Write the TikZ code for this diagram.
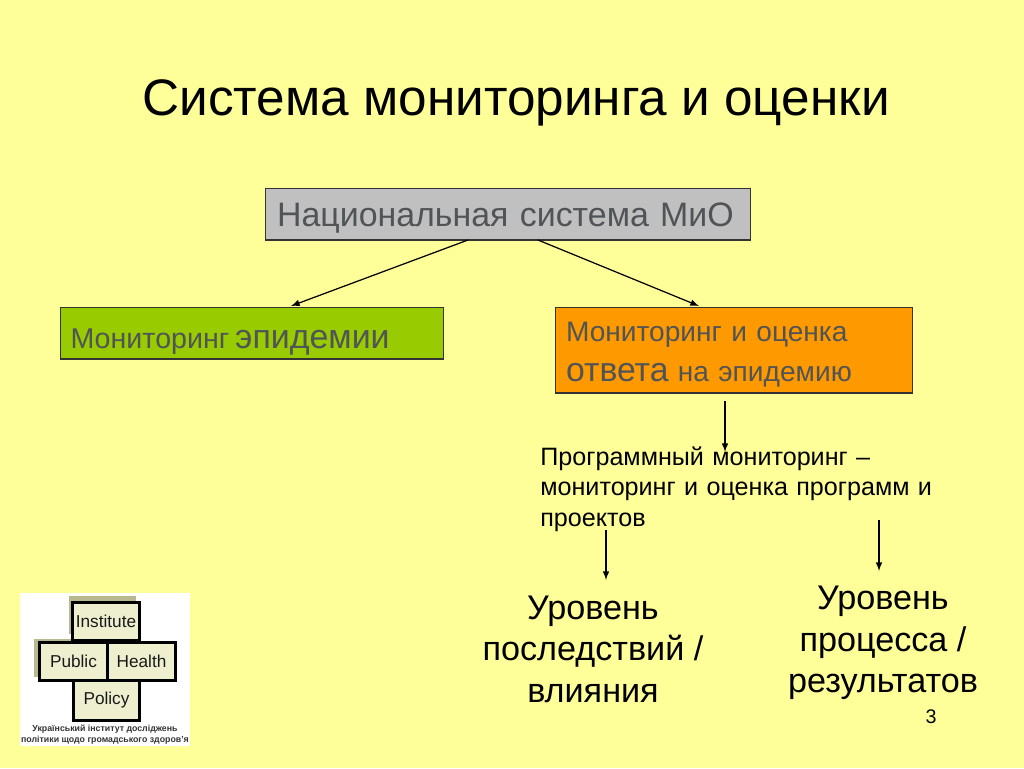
\documentclass[tikz,border=0pt]{standalone}
\usepackage{fontspec}
\setmainfont{Liberation Sans}
\usetikzlibrary{positioning, arrows}
\definecolor{slidebg}{HTML}{FFFF99}
\definecolor{boxgrey}{HTML}{C0C0C0}
\definecolor{boxgreen}{HTML}{99CC00}
\definecolor{boxorange}{HTML}{FF9900}
\definecolor{boxtext}{HTML}{505457}
\definecolor{logofill}{HTML}{EEEFCF}
\definecolor{logoshade}{HTML}{B9B98F}
\newcommand{\fs}[1]{\fontsize{#1}{#1}\selectfont}
\tikzset{
  box/.style={draw=black!80, line width=0.6pt, inner sep=0pt, text=boxtext, align=left, anchor=north west},
  plain/.style={inner sep=0pt, text=black, align=center},
  arrow/.style={-latex, line width=0.7pt, black},
  logobox/.style={draw=black, line width=1.7pt, fill=logofill, inner sep=0pt, text=black!90, anchor=north west, font=\fs{9.8}},
  logoshadow/.style={fill=logoshade, inner sep=0pt, anchor=north west}
}
\begin{document}
\begin{tikzpicture}[x=0.02cm, y=-0.02cm]
  \useasboundingbox (0, 0) rectangle (1024, 768);
  \fill[slidebg] (0, 0) rectangle (1024, 768);

  \node[plain, font=\fs{29.2}] (title) at (516, 103) {Система мониторинга и оценки};

  \node[box, fill=boxgrey, minimum width=9.72cm, minimum height=1.04cm, text width=9.24cm, text height=18.6pt, font=\fs{19.3}] (national) at (264.5, 187.5) {Национальная система МиО};
  \node[box, fill=boxgreen, minimum width=7.68cm, minimum height=1.04cm, text width=7.26cm, text height=21pt] (epidemic) at (59.5, 306.5) {{\fs{16.3}Мониторинг} {\fs{19.3}эпидемии}};
  \node[box, fill=boxorange, minimum width=7.16cm, minimum height=1.72cm, text width=6.72cm, text height=16.4pt, font=\fs{16}] (response) at (554.5, 306.5) {Мониторинг и оценка\\[6.5pt]{\fs{19.2}ответа} на эпидемию};

  \node[plain, align=left, text width=8.2cm, font=\fs{14.3}, anchor=north west] (program) at (540, 446) {Программный мониторинг –\\[3.1pt]мониторинг и оценка программ и\\[3.1pt]проектов};
  \node[plain, font=\fs{19.45}] (impact) at (593, 649) {Уровень\\[4.2pt]последствий /\\[4.2pt]влияния};
  \node[plain, font=\fs{19.45}] (process) at (883, 643) {Уровень\\[4.2pt]процесса /\\[4.2pt]результатов};
  \node[plain, font=\fs{11.2}] (page) at (931, 717) {3};

  % logo
  \node[fill=white, inner sep=0pt, minimum width=3.4cm, minimum height=3.06cm, anchor=north west] (logo) at (20, 593) {};
  \node[logoshadow, minimum width=1.34cm, minimum height=0.76cm] (shadetop) at (69, 596) {};
  \node[logoshadow, minimum width=1.36cm, minimum height=0.76cm] (shadeleft) at (34, 639) {};
  \node[logobox, minimum width=1.34cm, minimum height=0.76cm] (institute) at (71, 601) {Institute};
  \node[logobox, minimum width=1.36cm, minimum height=0.76cm] (public) at (38, 641) {Public};
  \node[logobox, minimum width=1.36cm, minimum height=0.76cm] (health) at (106, 641) {Health};
  \node[logobox, minimum width=1.32cm, minimum height=0.8cm] (policy) at (72, 679) {Policy};
  \node[plain, text=black!80, font=\bfseries\fs{5}] (logotext) at (105, 735) {Український інститут досліджень\\[1.2pt]політики щодо громадського здоров’я};

  \coordinate (nationalleft) at (468, 240);
  \coordinate (nationalright) at (538, 240);
  \coordinate (epidemicin) at (291, 306);
  \coordinate (responsein) at (699, 306);
  \coordinate (responseout) at (725, 401);
  \coordinate (programin) at (725, 452);
  \coordinate (impactstart) at (606, 530);
  \coordinate (impactin) at (606, 580);
  \coordinate (processstart) at (879, 520);
  \coordinate (processin) at (879, 571);

  \draw[arrow] (nationalleft) -- (epidemicin);
  \draw[arrow] (nationalright) -- (responsein);
  \draw[arrow] (responseout) -- (programin);
  \draw[arrow] (impactstart) -- (impactin);
  \draw[arrow] (processstart) -- (processin);
\end{tikzpicture}
\end{document}
